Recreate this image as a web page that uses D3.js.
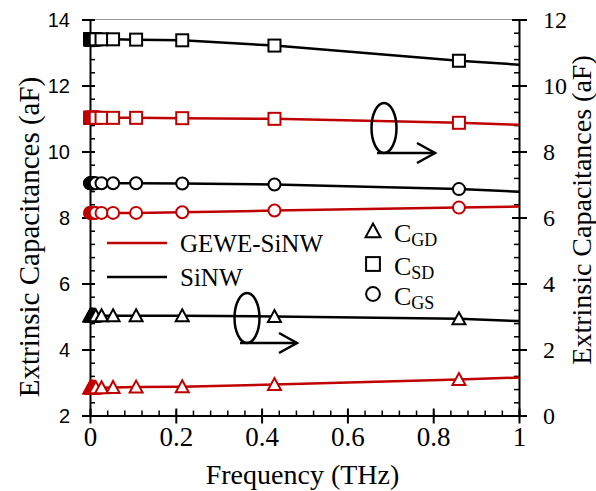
<!DOCTYPE html>
<html>
<head>
<meta charset="utf-8">
<script src="https://cdn.jsdelivr.net/npm/d3@7"></script>
<style>
  body { margin: 0; background: #fff; }
  svg { display: block; }
</style>
</head>
<body>
<div id="chart"></div>
<script>
// frequency points (THz), dense sweep near 0
const freq = [0, 0.0008, 0.0017, 0.0025, 0.0034, 0.0042, 0.005, 0.0059, 0.0067, 0.0084, 0.0101, 0.0134,
              0.0269, 0.0538, 0.1075, 0.215, 0.43, 0.86, 1];

// capacitances (aF)
const sinwSD = [13.40, 13.40, 13.40, 13.40, 13.40, 13.40, 13.40, 13.40, 13.40, 13.40, 13.40, 13.40,
                13.40, 13.40, 13.39, 13.37, 13.21, 12.75, 12.63];
const geweSD = [11.02, 11.02, 11.02, 11.02, 11.02, 11.02, 11.02, 11.02, 11.02, 11.02, 11.02, 11.02,
                11.02, 11.02, 11.02, 11.01, 10.99, 10.87, 10.81];
const sinwGS = [9.04, 9.04, 9.04, 9.04, 9.04, 9.04, 9.04, 9.04, 9.04, 9.04, 9.04, 9.04,
                9.04, 9.04, 9.04, 9.03, 9.00, 8.86, 8.78];
const geweGS = [8.14, 8.14, 8.14, 8.14, 8.14, 8.14, 8.14, 8.14, 8.14, 8.14, 8.14, 8.14,
                8.14, 8.14, 8.14, 8.16, 8.21, 8.30, 8.33];
const sinwGD = [5.02, 5.02, 5.02, 5.02, 5.02, 5.02, 5.02, 5.02, 5.02, 5.02, 5.02, 5.02,
                5.02, 5.02, 5.02, 5.02, 5.00, 4.93, 4.86];
const geweGD = [2.84, 2.84, 2.84, 2.84, 2.84, 2.84, 2.84, 2.84, 2.84, 2.84, 2.84, 2.84,
                2.84, 2.85, 2.86, 2.87, 2.94, 3.09, 3.15];

const xTicks = [0, 0.2, 0.4, 0.6, 0.8, 1];
const yLeftTicks = [2, 4, 6, 8, 10, 12, 14];
const yRightTicks = [0, 2, 4, 6, 8, 10, 12];

const RED = "#c00000";
const BLACK = "#000";
const SERIF = '"Liberation Serif"';
const SANS = '"Liberation Sans"';

const series = [
    { values: sinwSD, color: BLACK, marker: "square" },
    { values: geweSD, color: RED, marker: "square" },
    { values: sinwGS, color: BLACK, marker: "circle" },
    { values: geweGS, color: RED, marker: "circle" },
    { values: sinwGD, color: BLACK, marker: "triangle" },
    { values: geweGD, color: RED, marker: "triangle" }
];

const width = 596, height = 491;
const plot = { left: 90, right: 519, top: 19.5, bottom: 415.5 };

const svg = d3.select("#chart").append("svg")
    .attr("width", width)
    .attr("height", height);

const x = d3.scaleLinear().domain([0, 1]).range([plot.left, plot.right]);
const yL = d3.scaleLinear().domain([2, 14]).range([plot.bottom, plot.top]);
const yR = d3.scaleLinear().domain([0, 12]).range([plot.bottom, plot.top]);

// top frame line
svg.append("line")
    .attr("x1", plot.left).attr("x2", plot.right)
    .attr("y1", plot.top).attr("y2", plot.top)
    .attr("stroke", "#999").attr("stroke-width", 1);

// minor ticks, pointing inside
function minorTicks(axis, scale, step, g) {
    const d = scale.domain();
    const vals = [];
    for (let v = d[0]; v <= d[1] + 1e-9; v += step) vals.push(+v.toFixed(4));
    g.call(axis(scale).tickValues(vals).tickSize(-5).tickFormat(""));
    g.select(".domain").remove();
    g.selectAll("line").attr("stroke-width", 1.5);
}

const gxm = svg.append("g").attr("transform", `translate(0,${plot.bottom})`);
minorTicks(d3.axisBottom, x, 0.04, gxm);
const gylm = svg.append("g").attr("transform", `translate(${plot.left},0)`);
minorTicks(d3.axisLeft, yL, 0.4, gylm);
const gyrm = svg.append("g").attr("transform", `translate(${plot.right},0)`);
minorTicks(d3.axisRight, yR, 0.4, gyrm);

// x axis
const gx = svg.append("g").attr("transform", `translate(0,${plot.bottom})`)
    .call(d3.axisBottom(x).tickValues(xTicks).tickSizeOuter(0).tickFormat(d => String(d)));
gx.attr("font-family", SERIF).attr("font-size", 27);
gx.select(".domain").attr("stroke-width", 2);
gx.selectAll(".tick line").attr("y1", -7).attr("y2", 8).attr("stroke-width", 2);
gx.selectAll(".tick text").attr("y", 30).attr("dy", 0)
    .style("font-family", SERIF).style("font-size", "27px").attr("fill", "#000");

// left axis
const gyl = svg.append("g").attr("transform", `translate(${plot.left},0)`)
    .call(d3.axisLeft(yL).tickValues(yLeftTicks).tickSizeOuter(0));
gyl.attr("font-family", SANS).attr("font-size", 20);
gyl.select(".domain").attr("stroke-width", 2);
gyl.selectAll(".tick line").attr("x1", 5).attr("x2", -8).attr("stroke-width", 2);
gyl.selectAll(".tick text").attr("x", -20).attr("dy", "0.35em")
    .style("font-family", SANS).style("font-size", "20px").attr("fill", "#000");

// right axis
const gyr = svg.append("g").attr("transform", `translate(${plot.right},0)`)
    .call(d3.axisRight(yR).tickValues(yRightTicks).tickSizeOuter(0));
gyr.attr("font-family", SERIF).attr("font-size", 24);
gyr.select(".domain").attr("stroke-width", 2);
gyr.selectAll(".tick line").attr("x1", -7).attr("x2", 8).attr("stroke-width", 2);
gyr.selectAll(".tick text").attr("x", 24).attr("dy", "0.35em")
    .style("font-family", SERIF).style("font-size", "24px").attr("fill", "#000");

// axis titles
svg.append("text")
    .attr("x", (plot.left + plot.right) / 2 - 2).attr("y", 484)
    .attr("text-anchor", "middle")
    .style("font-family", SERIF).style("font-size", "28px")
    .text("Frequency (THz)");

svg.append("text")
    .attr("transform", "translate(39,237) rotate(-90)")
    .attr("text-anchor", "middle")
    .style("font-family", SERIF).style("font-size", "29px")
    .text("Extrinsic Capacitances (aF)");

svg.append("text")
    .attr("transform", "translate(591,210) rotate(-90)")
    .attr("text-anchor", "middle")
    .style("font-family", SERIF).style("font-size", "28px")
    .text("Extrinsic Capacitances (aF)");

// marker shapes
function drawMarker(g, type, cx, cy, color, s) {
    if (type === "square") {
        g.append("rect")
            .attr("x", cx - 6 * s).attr("y", cy - 6 * s)
            .attr("width", 12 * s).attr("height", 12 * s)
            .attr("fill", "#fff").attr("stroke", color).attr("stroke-width", 2);
    } else if (type === "circle") {
        g.append("circle")
            .attr("cx", cx).attr("cy", cy).attr("r", 6 * s)
            .attr("fill", "#fff").attr("stroke", color).attr("stroke-width", 2);
    } else {
        g.append("path")
            .attr("d", `M${cx},${cy - 6.5 * s}L${cx + 6.5 * s},${cy + 5.5 * s}L${cx - 6.5 * s},${cy + 5.5 * s}Z`)
            .attr("fill", "#fff").attr("stroke", color).attr("stroke-width", 2)
            .attr("stroke-linejoin", "miter");
    }
}

// series lines and markers
const line = d3.line().x(d => x(d[0])).y(d => yL(d[1]));

series.forEach(function(s) {
    const pts = freq.map((f, i) => [f, s.values[i]]);
    svg.append("path")
        .datum(pts)
        .attr("d", line)
        .attr("fill", "none")
        .attr("stroke", s.color)
        .attr("stroke-width", 2.5);

    const gm = svg.append("g");
    // no marker on the final point at 1 THz
    pts.slice(0, -1).forEach(p => drawMarker(gm, s.marker, x(p[0]), yL(p[1]), s.color, 1));
});

// legend: lines
const legendLines = [
    { label: "GEWE-SiNW", color: RED, y: 243 },
    { label: "SiNW", color: BLACK, y: 277 }
];
legendLines.forEach(function(l) {
    svg.append("line")
        .attr("x1", 107).attr("x2", 167)
        .attr("y1", l.y).attr("y2", l.y)
        .attr("stroke", l.color).attr("stroke-width", 2.5);
    svg.append("text")
        .attr("x", 180).attr("y", l.y + 9)
        .style("font-family", SERIF).style("font-size", "25px")
        .text(l.label);
});

// legend: markers
const legendMarkers = [
    { marker: "triangle", sub: "GD", y: 231 },
    { marker: "square", sub: "SD", y: 264 },
    { marker: "circle", sub: "GS", y: 294 }
];
legendMarkers.forEach(function(m) {
    drawMarker(svg, m.marker, 373, m.y, BLACK, 1.15);
    const t = svg.append("text")
        .attr("x", 394).attr("y", m.y + 11)
        .style("font-family", SERIF).style("font-size", "26px");
    t.append("tspan").text("C");
    t.append("tspan").attr("dy", 4).style("font-size", "18px").text(m.sub);
});

// annotations: ellipses with arrows pointing to the right axis
const notes = [
    { cx: 384, cy: 128, x2: 435 },
    { cx: 247, cy: 318, x2: 297 }
];
notes.forEach(function(n) {
    svg.append("ellipse")
        .attr("cx", n.cx).attr("cy", n.cy).attr("rx", 12.5).attr("ry", 25)
        .attr("fill", "none").attr("stroke", "#000").attr("stroke-width", 2.5);
    const ay = n.cy + 25;
    svg.append("line")
        .attr("x1", n.cx - 7).attr("x2", n.x2)
        .attr("y1", ay).attr("y2", ay)
        .attr("stroke", "#000").attr("stroke-width", 2.5);
    svg.append("path")
        .attr("d", `M${n.x2 - 18},${ay - 10}L${n.x2},${ay}L${n.x2 - 18},${ay + 10}`)
        .attr("fill", "none").attr("stroke", "#000").attr("stroke-width", 2.5);
});
</script>
</body>
</html>
